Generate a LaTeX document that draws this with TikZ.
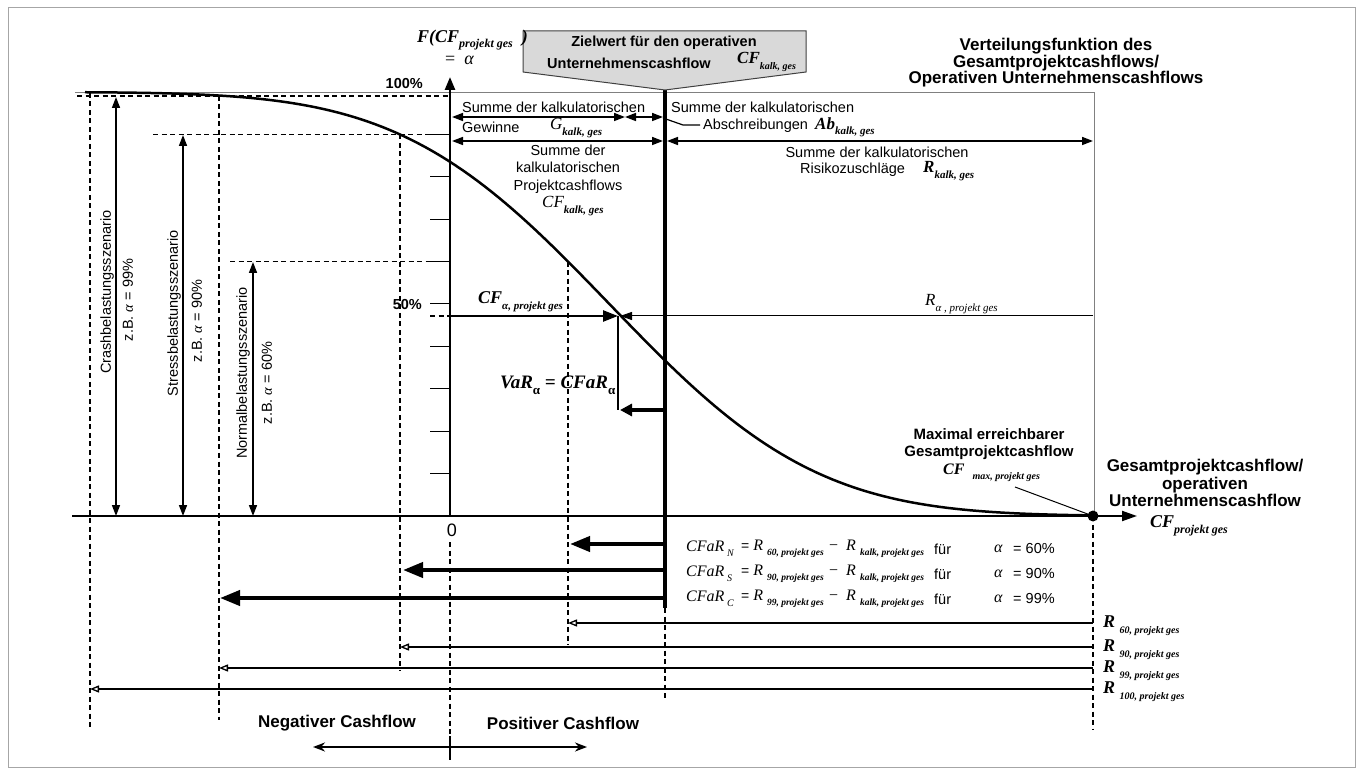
\documentclass[tikz,border=0pt]{standalone}
\usepackage{fontspec}
\setmainfont{Liberation Sans}
\newfontfamily\tms{Liberation Serif}
\usetikzlibrary{arrows.meta}
\newcommand{\fsz}[2]{\fontsize{#1}{#2}\selectfont}
\newcommand{\bix}{\tms\bfseries\itshape}
\newcommand{\tix}{\tms\itshape}
\newcommand{\lsub}[2][11]{\raisebox{-0.32em}{\fontsize{#1}{#1}\selectfont #2}}
\begin{document}
\begin{tikzpicture}[x=1pt,y=-1pt,
  txt/.style={inner sep=0pt, font=\fsz{14.5}{17}},
  btxt/.style={inner sep=0pt, font=\fsz{14.5}{17}\bfseries},
  mth/.style={inner sep=0pt},
  dsh/.style={dash pattern=on 5pt off 3.5pt, line width=1.3pt},
  dbl/.style={line width=1.6pt, {Triangle[length=11pt,width=8pt]}-{Triangle[length=11pt,width=8pt]}},
  bold arrow/.style={line width=4pt, -{Triangle[length=20pt,width=15pt]}},
  thin arrow/.style={line width=1.3pt, -{Triangle[open,length=9pt,width=7pt]}}]
\useasboundingbox (0,0) rectangle (1363,775);
% frame
\draw[gray!70, line width=1pt] (8,8) rectangle (1355,767);
% coordinates
\coordinate (O) at (450,516);
\coordinate (Ytop) at (450,77);
\coordinate (Xl) at (72,516);
\coordinate (Xr) at (1137,516);
\coordinate (M) at (1093,516);
\coordinate (T) at (665,90);
\coordinate (Tb) at (665,608);
\coordinate (P) at (618,316);
% gray box
\draw[gray, line width=0.9pt] (75,92) -- (1094,92) -- (1094,516);
% ticks
\foreach \k in {1,...,9} \draw[line width=1pt] (430,{92+42.4*\k}) -- (450,{92+42.4*\k});
% dashed helpers
\draw[dsh] (77,96) -- (450,96);
\draw[dsh] (153,134.4) -- (450,134.4);
\draw[dsh] (230,261.6) -- (450,261.6);
\draw[dsh] (430,316) -- (450,316);
\draw[dsh] (90,93) -- (90,730);
\draw[dsh] (219,96) -- (219,720);
\draw[dsh] (400,134.4) -- (400,670);
\draw[dsh] (568,261.6) -- (568,645);
\draw[dsh] (450,542) -- (450,760);
\draw[dsh] (M) -- (1093,730);
\draw[dsh] (Tb) -- (665,698);
% curve
\draw[line width=2.5pt] plot[domain=85:1093, samples=140, variable=\t]
  ({\t}, {92+424/(1+exp(-(1.5976*((\t-609.4)/163.4)+0.070566*((\t-609.4)/163.4)*((\t-609.4)/163.4)*((\t-609.4)/163.4))))});
% axes
\draw[line width=2.5pt, -{Triangle[length=13pt,width=10pt]}] (O) -- (Ytop);
\draw[line width=2pt, -{Triangle[length=15pt,width=10pt]}] (Xl) -- (Xr);
\fill (M) circle (5.5pt);
% target line and callout
\draw[line width=4pt] (T) -- (Tb);
\draw[fill=gray!30, draw=black!75, line width=1pt] (523,31) -- (806,31) -- (806,72) -- (T) -- (523,72) -- cycle;
% scenario arrows
\draw[dbl] (116,97) -- (116,516);
\draw[dbl] (183,135) -- (183,516);
\draw[dbl] (253,262) -- (253,516);
% top arrows
\draw[dbl] (452,117) -- (625,117);
\draw[dbl] (625,117) -- (663,117);
\draw[dbl] (452,141) -- (663,141);
\draw[dbl] (667,141) -- (1093,141);
\draw[line width=1.2pt] (663,118) -- (683,125) -- (700,125);
% alpha arrows
\draw[line width=2.5pt, -{Triangle[length=15pt,width=11pt]}] (450,316) -- (P);
\draw[line width=1pt, -{Triangle[length=12pt,width=8pt]}] (1093,316) -- (620,316);
\draw[line width=1.3pt] (P) -- (618,410);
\draw[line width=4pt, -{Triangle[length=12pt,width=12pt]}] (665,410) -- (620,410);
% CFaR bold arrows
\draw[bold arrow] (665,544) -- (570,544);
\draw[bold arrow] (665,570) -- (403,570);
\draw[bold arrow] (665,598) -- (220,598);
% R thin arrows
\draw[thin arrow] (1093,623) -- (568,623);
\draw[thin arrow] (1093,647) -- (400,647);
\draw[thin arrow] (1093,668) -- (219,668);
\draw[thin arrow] (1093,689) -- (90,689);
% bottom arrows
\draw[line width=2pt, -{Stealth[length=12pt,width=9pt]}] (450,747) -- (313,747);
\draw[line width=2pt, -{Stealth[length=12pt,width=9pt]}] (450,747) -- (587,747);
\draw[line width=2pt] (450,736) -- (450,758);
% max leader
\draw[line width=1pt] (1015,487) -- (M);

% ---- texts ----
\node[mth, anchor=west] (flab) at (417,40) {\bix\fsz{18}{20}F(CF\lsub[12]{projekt ges}\ \ )};
\node[mth, anchor=west] (alab) at (445,60) {\tms\fsz{18}{20}= \ \itshape α};
\node[btxt, anchor=east] (p100) at (423,84) {100\%};
\node[btxt, anchor=east] (p50) at (422,305) {50\%};
\node[btxt] (ziel1) at (664,43) {Zielwert für den operativen};
\node[btxt, anchor=west] (ziel2) at (547,63) {Unternehmenscashflow};
\node[mth, anchor=west] (ziel3) at (737,62) {\bix\fsz{17}{17}CF\lsub[10]{kalk, ges}};
\node[inner sep=0pt, align=center, font=\fsz{17}{16.5}\bfseries] (title) at (1056,63)
  {Verteilungsfunktion des\\Gesamtprojektcashflows/\\Operativen Unternehmenscashflows};
\node[txt, anchor=west] (s1) at (462,107) {Summe der kalkulatorischen};
\node[txt, anchor=west] (gew) at (462,127) {Gewinne};
\node[mth, anchor=west] (glab) at (550,128) {\tix\fsz{17}{17}G\lsub{\bfseries kalk, ges}};
\node[txt, anchor=west] (s2) at (671,107) {Summe der kalkulatorischen};
\node[txt, anchor=west] (abs) at (703,126) {Abschreibungen};
\node[mth, anchor=west] (ablab) at (815,127) {\bix\fsz{17}{17}Ab\lsub{kalk, ges}};
\node[txt, align=center, font=\fsz{14.5}{17.5}] (s3) at (568,169) {Summe der\\kalkulatorischen\\Projektcashflows};
\node[mth, anchor=west] (cfk) at (542,206) {\tix\fsz{17}{17}CF\lsub{\bfseries kalk, ges}};
\node[txt] (s4) at (877,152) {Summe der kalkulatorischen};
\node[txt, anchor=west] (risk) at (800,170) {Risikozuschläge};
\node[mth, anchor=west] (rk) at (923,171) {\bix\fsz{17}{17}R\lsub{kalk, ges}};
\node[mth, anchor=west] (cfa) at (478,302) {\bix\fsz{18}{18}CF\lsub{α, projekt ges}};
\node[mth, anchor=west] (ra) at (925,304) {\tix\fsz{17}{17}R\lsub{α , projekt ges}};
\node[mth, anchor=west] (var) at (500,385) {\bix\fsz{19}{19}VaR\lsub[13]{\upshape α} = CFaR\lsub[13]{\upshape α}};
\node[inner sep=0pt, align=center, font=\fsz{15}{17}\bfseries] (maxl) at (989,444) {Maximal erreichbarer\\Gesamtprojektcashflow};
\node[mth, anchor=west] (cfmax) at (943,473) {\bix\fsz{16}{16}CF\ \ \lsub[10]{max, projekt ges}};
\node[inner sep=0pt, align=center, font=\fsz{17}{17.5}\bfseries] (gesl) at (1205,483) {Gesamtprojektcashflow/\\operativen\\Unternehmenscashflow};
\node[mth, anchor=west] (cfp) at (1150,526) {\bix\fsz{18}{18}CF\lsub[12]{projekt ges}};
\node[inner sep=0pt, font=\fsz{18}{18}] (zero) at (452,530) {0};
% scenario labels
\node[txt, rotate=90] (crash) at (107,292) {Crashbelastungsszenario};
\node[txt, rotate=90] (crashz) at (128,300) {z.B. {\tix α} = 99\%};
\node[txt, rotate=90] (stress) at (174,313) {Stressbelastungsszenario};
\node[txt, rotate=90] (stressz) at (197,321) {z.B. {\tix α} = 90\%};
\node[txt, rotate=90] (normal) at (243,373) {Normalbelastungsszenario};
\node[txt, rotate=90] (normalz) at (267,383) {z.B. {\tix α} = 60\%};
% formula rows
\foreach \y/\s/\n/\nm in {549/N/60/a, 574/S/90/b, 599/C/99/c}{
  \node[mth, anchor=west] (fa\nm) at (686,\y) {\tix\fsz{16}{16}CFaR\,\lsub[10]{\s}};
  \node[mth, anchor=west] (fb\nm) at (741,\y) {\fsz{14}{16}= {\tix\fsz{16}{16}R\ \lsub[9.5]{\bfseries \n, projekt ges}}};
  \node[mth, anchor=west] (fc\nm) at (829,\y) {\tms\fsz{16}{16}− \ {\itshape R\ \lsub[9.5]{\bfseries kalk, projekt ges}}};
  \node[txt, anchor=west] (fd\nm) at (934,\y) {für};
  \node[mth, anchor=west] (fe\nm) at (994,\y) {\tix\fsz{16}{16}α};
  \node[txt, anchor=west] (ff\nm) at (1013,\y) {= \n\%};
}
% R labels
\foreach \y/\n/\nm in {626/60/a, 650/90/b, 671/99/c, 692/100/d}{
  \node[mth, anchor=west] (rl\nm) at (1103,\y) {\bix\fsz{18}{18}R\ \lsub[10]{\n, projekt ges}};
}
\node[inner sep=0pt, font=\fsz{17}{17}\bfseries] (neg) at (337,723) {Negativer Cashflow};
\node[inner sep=0pt, font=\fsz{17}{17}\bfseries] (pos) at (563,723) {Positiver Cashflow};
\end{tikzpicture}
\end{document}
